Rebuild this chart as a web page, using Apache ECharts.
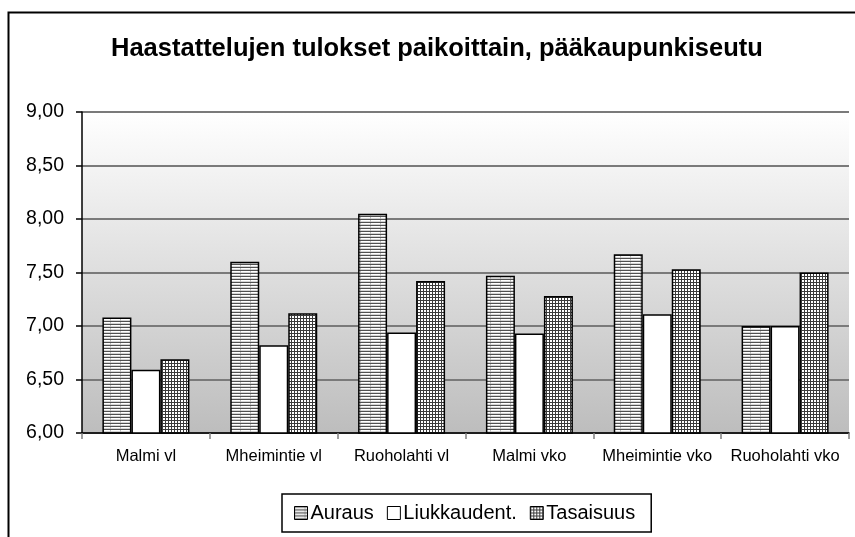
<!DOCTYPE html>
<html>
<head>
<meta charset="utf-8">
<script src="https://cdn.jsdelivr.net/npm/echarts@6/dist/echarts.min.js"></script>
<style>
  html, body { margin: 0; padding: 0; background: #fff; }
  #main { width: 855px; height: 537px; }
</style>
</head>
<body>
<div id="main"></div>
<script>
// paikat (x-akseli)
var categories = ['Malmi vl', 'Mheimintie vl', 'Ruoholahti vl', 'Malmi vko', 'Mheimintie vko', 'Ruoholahti vko'];
// sarjat
var auraus = [7.08, 7.60, 8.05, 7.47, 7.67, 7.00];
var liukkaudent = [6.59, 6.82, 6.94, 6.93, 7.11, 7.00];
var tasaisuus = [6.69, 7.12, 7.42, 7.28, 7.53, 7.50];
var yTicks = [6.00, 6.50, 7.00, 7.50, 8.00, 8.50, 9.00];

var FONT = '"Liberation Sans", Arial, sans-serif';

// vaakaviivakuvio (Auraus)
function stripePattern() {
    var c = document.createElement('canvas');
    c.width = 10; c.height = 3;
    var ctx = c.getContext('2d');
    ctx.fillStyle = '#ffffff';
    ctx.fillRect(0, 0, 10, 3);
    ctx.fillStyle = '#505050';
    ctx.fillRect(0, 0, 10, 1);
    ctx.fillStyle = '#d4d4d4';
    ctx.fillRect(0, 2, 10, 1);
    ctx.fillStyle = '#bcbcbc';
    ctx.fillRect(0, 1, 1, 2);
    return c;
}
// ruudukkokuvio (Tasaisuus)
function gridPattern() {
    var c = document.createElement('canvas');
    c.width = 3; c.height = 3;
    var ctx = c.getContext('2d');
    ctx.fillStyle = '#ffffff';
    ctx.fillRect(0, 0, 3, 3);
    ctx.fillStyle = '#3a3a3a';
    ctx.fillRect(0, 0, 3, 1);
    ctx.fillRect(0, 0, 1, 3);
    return c;
}

var myChart = echarts.init(document.getElementById('main'), null, {renderer: 'canvas'});

function barSeries(name, data, fill) {
    return {
        name: name,
        type: 'bar',
        data: data,
        barWidth: 29,
        barGap: '0%',
        itemStyle: {
            color: fill,
            borderColor: '#000',
            borderWidth: 1.5
        }
    };
}

var option = {
    animation: false,
    backgroundColor: '#fff',
    title: {
        text: 'Haastattelujen tulokset paikoittain, pääkaupunkiseutu',
        left: 106,
        top: 31,
        textStyle: {
            fontFamily: FONT,
            fontSize: 25.5,
            fontWeight: 'bold',
            color: '#000'
        }
    },
    legend: {
        left: 282,
        top: 494,
        padding: [9, 16, 9, 12],
        borderColor: '#000',
        borderWidth: 1.5,
        icon: 'rect',
        itemWidth: 13,
        itemHeight: 13,
        itemGap: 13,
        textStyle: {
            fontFamily: FONT,
            fontSize: 20,
            color: '#000',
            padding: [0, 0, 0, -2]
        },
        itemStyle: {
            borderColor: '#000',
            borderWidth: 1
        },
        data: ['Auraus', 'Liukkaudent.', 'Tasaisuus']
    },
    grid: {
        left: 82,
        right: 6,
        top: 112,
        bottom: 104,
        show: true,
        borderWidth: 0,
        backgroundColor: new echarts.graphic.LinearGradient(0, 0, 0, 1, [
            {offset: 0, color: '#ffffff'},
            {offset: 1, color: '#bdbdbd'}
        ])
    },
    xAxis: {
        type: 'category',
        data: categories,
        axisLine: {lineStyle: {color: '#000', width: 1.5}},
        axisTick: {show: true, length: 6, lineStyle: {color: '#808080', width: 1.5}},
        axisLabel: {
            interval: 0,
            fontFamily: FONT,
            fontSize: 16.5,
            color: '#000',
            margin: 15
        }
    },
    yAxis: {
        type: 'value',
        min: 6,
        max: 9,
        interval: 0.5,
        axisLine: {show: true, lineStyle: {color: '#000', width: 1.5}},
        axisTick: {show: true, length: 6, lineStyle: {color: '#000', width: 1.5}},
        axisLabel: {
            fontFamily: FONT,
            fontSize: 19.5,
            color: '#000',
            margin: 18,
            formatter: function (v) {
                var hit = yTicks.filter(function (t) { return Math.abs(t - v) < 1e-9; });
                return hit.length ? hit[0].toFixed(2).replace('.', ',') : '';
            }
        },
        splitLine: {
            show: true,
            lineStyle: {color: '#7a7a7a', width: 2}
        }
    },
    graphic: [{
        type: 'rect',
        left: 6,
        top: 10,
        shape: {width: 870, height: 560},
        style: {fill: 'none', stroke: '#000', lineWidth: 2},
        silent: true,
        z: 100
    }],
    series: [
        barSeries('Auraus', auraus, {image: stripePattern(), repeat: 'repeat'}),
        barSeries('Liukkaudent.', liukkaudent, '#ffffff'),
        barSeries('Tasaisuus', tasaisuus, {image: gridPattern(), repeat: 'repeat'})
    ]
};

myChart.setOption(option);
window.addEventListener('resize', function () {
    myChart.resize();
});
</script>
</body>
</html>
